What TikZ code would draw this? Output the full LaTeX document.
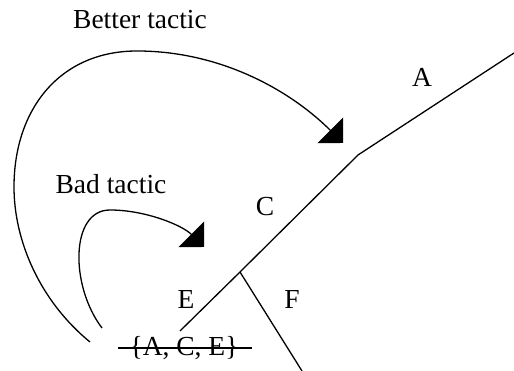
\documentclass[tikz,border=0pt]{standalone}
\usepackage{fontspec}
\setmainfont{Liberation Serif}
\usetikzlibrary{arrows.meta}
\begin{document}
\begin{tikzpicture}[x=1pt, y=1pt,
    branch/.style={draw=black, line width=1.3pt},
    lbl/.style={font=\fontsize{27.5}{32}\selectfont, inner sep=0pt},
    tactic/.style={draw=black, line width=1.3pt, -{Triangle[length=18pt, width=36pt]}}
]
\useasboundingbox (0,0) rectangle (514,371);

% Tree points
\coordinate (top)  at (514,318);
\coordinate (j1)   at (358,216);
\coordinate (j2)   at (240,99);
\coordinate (leaf) at (180,40);
\coordinate (fend) at (302,0);

% Labels
\node[lbl] (lblA) at (422,294) {A};
\node[lbl] (lblC) at (265,164) {C};
\node[lbl] (lblE) at (186,71)  {E};
\node[lbl] (lblF) at (292,71)  {F};
\node[lbl] (set)  at (184,23)  {\{A, C, E\}};
\node[lbl] (better) at (140,351) {Better tactic};
\node[lbl] (bad)    at (111,187) {Bad tactic};

% Tree
\draw[branch] (top) -- (j1) -- (j2) -- (leaf);
\draw[branch] (j2) -- (fend);

% Struck-out set
\draw[line width=1.3pt] ([xshift=-11pt]set.west) -- ([xshift=13pt]set.east);

% Tactics
\coordinate (s1) at (90,29);
\coordinate (p1) at (343,228);
\coordinate (s2) at (102,43);
\coordinate (p2) at (204,124);

\draw[tactic] (s1) .. controls (40,70) and (14,130) .. (14,184)
    .. controls (14,262) and (60,320) .. (137,320)
    .. controls (220,320) and (290,281) .. (p1);
\draw[tactic] (s2) .. controls (70,85) and (70,161) .. (110,161)
    .. controls (145,161) and (182,146) .. (p2);

\end{tikzpicture}
\end{document}
